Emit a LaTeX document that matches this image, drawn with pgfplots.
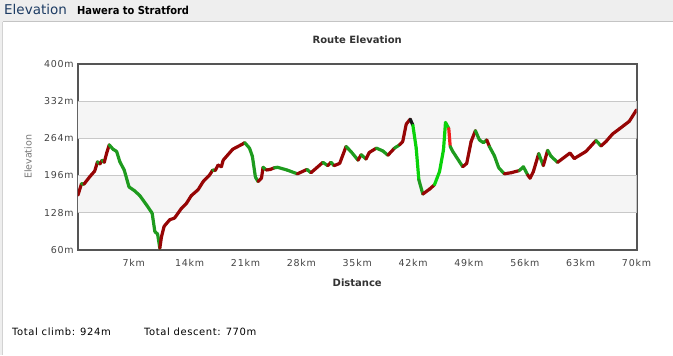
\documentclass[border=0pt]{standalone}
\usepackage{fontspec}
\setmainfont{DejaVu Sans}
\usepackage{pgfplots}
\usepackage{pgfplotstable}
\pgfplotsset{compat=1.18}
\newfontfamily\tickfont{DejaVu Sans}[LetterSpace=8]
\newfontfamily\smallfont{DejaVu Sans}[LetterSpace=6]
\newfontfamily\condfont{DejaVu Sans Condensed}
\definecolor{headbg}{HTML}{EEEEEE}
\definecolor{topline}{HTML}{C4C4C4}
\definecolor{leftline}{HTML}{D2D2D2}
\definecolor{navy}{HTML}{1D3C64}
\definecolor{gridgray}{HTML}{C8C8C8}
\definecolor{framegray}{HTML}{555555}
\definecolor{bandgray}{HTML}{F5F5F5}
\definecolor{ticktext}{HTML}{444444}
\definecolor{labtext}{HTML}{333333}
\definecolor{ylabtext}{HTML}{777777}

\pgfplotstableread{
d e c
0.00 160 1
0.45 181 0
0.75 180 1
1.50 194 1
2.10 204 1
2.45 221 0
2.75 217 1
3.04 224 0
3.30 220 1
3.60 237 1
3.92 252 0
4.40 244 0
4.85 240 0
5.25 221 0
5.80 206 0
6.40 175 0
7.10 168 0
7.76 159 0
8.60 142 0
9.30 127 0
9.64 93 0
9.98 89 0
10.26 63 1
10.47 84 1
10.80 103 1
11.50 115 1
12.10 118 1
12.98 136 1
13.60 145 1
14.20 159 1
15.06 170 1
15.70 185 1
16.50 197 1
16.90 206 0
17.20 205 1
17.56 215 1
17.98 212 1
18.20 224 1
19.40 244 1
20.70 254 1
20.90 256 0
21.50 246 0
21.86 231 0
22.24 193 0
22.57 185 1
23.00 191 1
23.20 211 0
23.60 206 1
24.10 207 1
24.60 210 0
25.00 211 0
26.20 206 0
27.50 199 1
28.70 207 0
29.20 201 1
30.70 220 0
31.30 214 1
31.70 220 0
32.10 214 1
32.80 218 1
33.60 249 0
34.20 240 0
35.10 224 1
35.50 234 0
36.10 226 1
36.50 238 1
37.40 246 0
38.20 241 0
38.84 233 1
39.67 246 0
40.30 252 1
40.70 258 1
41.14 290 1
41.64 299 4
41.97 288 2
42.39 246 2
42.72 188 0
43.22 162 1
44.06 171 1
44.68 179 2
45.31 203 2
45.81 243 2
46.06 293 2
46.47 282 3
46.65 249 0
46.97 240 0
48.22 212 1
48.72 218 1
49.27 258 1
49.81 278 0
50.31 261 0
50.81 256 0
51.23 261 1
51.56 249 0
52.19 232 0
52.73 210 0
53.44 199 1
54.28 201 1
55.32 205 0
55.82 212 0
56.36 197 1
56.66 191 1
57.07 203 1
57.74 236 0
58.32 214 1
58.86 242 0
59.29 231 0
60.11 220 1
61.66 237 1
62.20 227 1
63.67 240 1
64.92 260 0
65.55 250 1
66.17 258 1
67.00 272 1
67.83 281 1
68.46 288 1
69.09 295 1
70.00 316 1
}\routedata

\begin{document}
\begin{tikzpicture}
\fill[headbg] (0,0) rectangle (673pt,355pt);
\fill[white] (3pt,0) rectangle (673pt,333pt);
\draw[topline, line width=1pt] (3pt,333pt) -- (673pt,333pt);
\draw[leftline, line width=1pt] (3pt,0) -- (3pt,333pt);
\node[anchor=base west, inner sep=0pt, font=\fontsize{13.5}{16}\selectfont, text=navy] at (4pt,340pt) {Elevation};
\node[anchor=base west, inner sep=0pt, font=\condfont\bfseries\fontsize{11}{13}\selectfont] at (77pt,340.3pt) {Hawera to Stratford};
\node[anchor=base west, inner sep=0pt, font=\smallfont\fontsize{10}{12}\selectfont] at (12pt,19.7pt) {Total climb: 924m};
\node[anchor=base west, inner sep=0pt, font=\smallfont\fontsize{10}{12}\selectfont] at (144pt,19.7pt) {Total descent: 770m};
\begin{axis}[
  at={(78pt,105pt)}, anchor=south west,
  scale only axis, width=559pt, height=186pt,
  xmin=0, xmax=70, ymin=60, ymax=400,
  xtick={7,14,21,28,35,42,49,56,63,70},
  xticklabels={7km,14km,21km,28km,35km,42km,49km,56km,63km,70km},
  ytick={60,128,196,264,332,400},
  yticklabels={60m,128m,196m,264m,332m,400m},
  ymajorgrids, grid style={color=gridgray, line width=1pt},
  axis line style={color=framegray, line width=2pt},
  major tick length=0pt,
  tick label style={font=\tickfont\fontsize{9.5}{11}\selectfont, text=ticktext},
  yticklabel style={anchor=east, inner sep=0pt, xshift=-4pt},
  xticklabel style={anchor=north, inner sep=0pt, yshift=-9pt},
  title={Route Elevation},
  title style={font=\bfseries\fontsize{10}{12}\selectfont, text=labtext, at={(axis description cs:0.5,1.0968)}, anchor=center, inner sep=0pt},
  xlabel={Distance},
  xlabel style={font=\bfseries\fontsize{10}{12}\selectfont, text=labtext, at={(axis description cs:0.5,-0.1774)}, anchor=center, inner sep=0pt},
  ylabel={Elevation},
  ylabel style={font=\fontsize{9.5}{11}\selectfont, text=ylabtext, at={(axis description cs:-0.0894,0.5)}, anchor=center, inner sep=0pt},
  colormap={route}{rgb255=(30,155,30) rgb255=(150,5,5) rgb255=(10,210,10) rgb255=(240,30,30) rgb255=(25,25,25)},
  colormap access=direct,
]
\addplot[draw=gridgray, line width=1pt, fill=bandgray, forget plot] coordinates {(0,128) (70,128) (70,196) (0,196)} -- cycle;
\addplot[draw=gridgray, line width=1pt, fill=bandgray, forget plot] coordinates {(0,264) (70,264) (70,332) (0,332)} -- cycle;
\addplot[mesh, shader=flat corner, point meta=\thisrow{c}, line width=3.2pt, line cap=round, line join=round] table[x=d, y=e] {\routedata};
\end{axis}
\end{tikzpicture}
\end{document}
